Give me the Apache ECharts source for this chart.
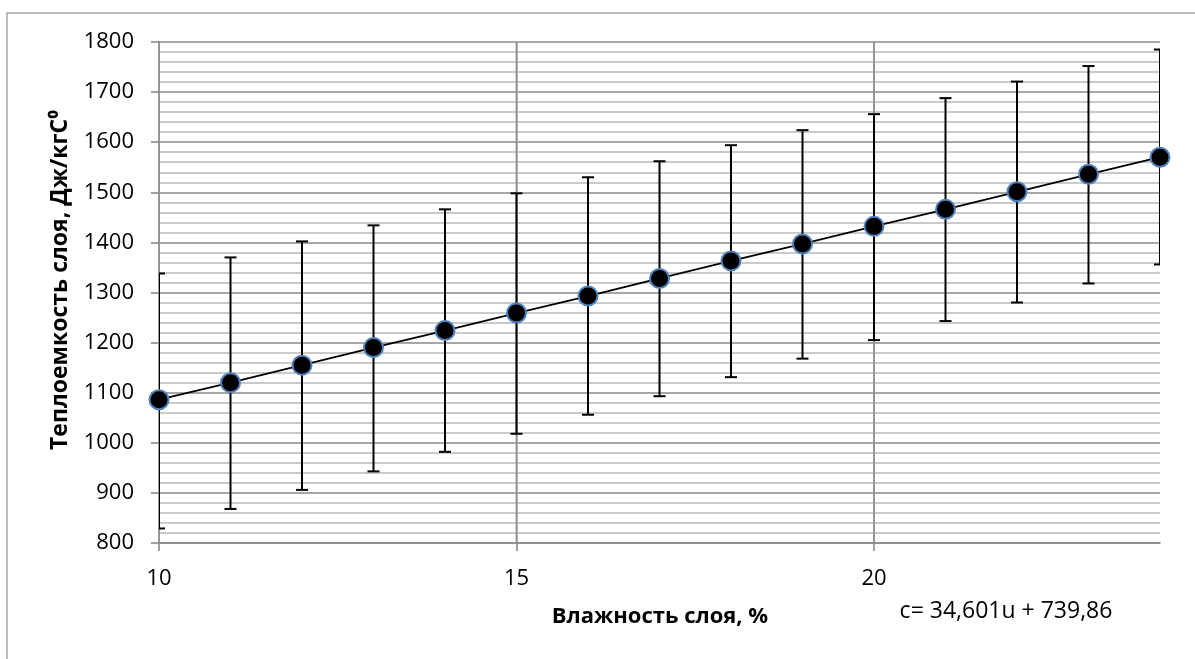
<!DOCTYPE html>
<html>
<head>
<meta charset="utf-8">
<script src="https://cdn.jsdelivr.net/npm/echarts@6/dist/echarts.min.js"></script>
<style>
  html, body { margin: 0; padding: 0; background: #fff; }
  #chart { width: 1195px; height: 659px; }
</style>
</head>
<body>
<div id="chart"></div>
<script>
// Влажность слоя, %
const moisture = [10, 11, 12, 13, 14, 15, 16, 17, 18, 19, 20, 21, 22, 23, 24];
// Теплоемкость слоя (средние значения), Дж/кгС⁰
const heatCapacity = [1086, 1120, 1155, 1190, 1224, 1259, 1293, 1328, 1363, 1397, 1432, 1466, 1501, 1536, 1570];
// Границы разброса (планки погрешностей)
const lowerBound = [829, 868, 906, 943, 982, 1018, 1056, 1093, 1131, 1168, 1205, 1243, 1280, 1318, 1356];
const upperBound = [1338, 1370, 1402, 1434, 1466, 1498, 1530, 1562, 1594, 1624, 1656, 1688, 1721, 1752, 1785];
// Подписи осей
const xTickLabels = [10, 15, 20];
const yTickLabels = [800, 900, 1000, 1100, 1200, 1300, 1400, 1500, 1600, 1700, 1800];

const xTitle = 'Влажность слоя, %';
const yTitle = 'Теплоемкость слоя, Дж/кгС⁰';
const equation = 'c= 34,601u + 739,86';

const FONT = '"Open Sans", "Noto Sans", sans-serif';
const MAJOR = '#8a8a8a';
const MINOR = '#b8b8b8';
const Y_MIN = yTickLabels[0];
const Y_MAX = yTickLabels[yTickLabels.length - 1];

const points = moisture.map((x, i) => [x, heatCapacity[i]]);
const bars = moisture.map((x, i) => [x, lowerBound[i], upperBound[i]]);

// основные вертикальные линии сетки (на подписанных делениях)
function renderMajorLine(params, api) {
  const x = api.value(0);
  const a = api.coord([x, Y_MIN]);
  const b = api.coord([x, Y_MAX]);
  return {
    type: 'line',
    shape: { x1: a[0], y1: a[1], x2: b[0], y2: b[1] },
    style: { stroke: MAJOR, lineWidth: 1.6 }
  };
}

function renderErrorBar(params, api) {
  const x = api.value(0);
  const top = api.coord([x, api.value(2)]);
  const bot = api.coord([x, api.value(1)]);
  const cap = 6;
  const st = { stroke: '#000', lineWidth: 2 };
  return {
    type: 'group',
    children: [
      { type: 'line', z2: 10, shape: { x1: top[0], y1: top[1], x2: bot[0], y2: bot[1] }, style: st },
      { type: 'line', z2: 10, shape: { x1: top[0] - cap, y1: top[1], x2: top[0] + cap, y2: top[1] }, style: st },
      { type: 'line', z2: 10, shape: { x1: bot[0] - cap, y1: bot[1], x2: bot[0] + cap, y2: bot[1] }, style: st }
    ]
  };
}

const chart = echarts.init(document.getElementById('chart'), null, { renderer: 'canvas' });
chart.setOption({
  backgroundColor: '#fff',
  animation: false,
  grid: { left: 159, right: 35, top: 42, bottom: 116, containLabel: false },
  xAxis: {
    type: 'value',
    min: moisture[0],
    max: moisture[moisture.length - 1],
    interval: 1,
    axisLine: { show: true, lineStyle: { color: MAJOR, width: 1.6 } },
    axisTick: { show: true, length: 8, customValues: xTickLabels, lineStyle: { color: MAJOR, width: 1.6 } },
    axisLabel: {
      customValues: xTickLabels,
      margin: 25,
      color: '#000',
      fontFamily: FONT,
      fontSize: 22
    },
    splitLine: { show: true, lineStyle: { color: MINOR, width: 1.6 } }
  },
  yAxis: {
    type: 'value',
    min: Y_MIN,
    max: Y_MAX,
    interval: 100,
    axisLine: { show: true, lineStyle: { color: MAJOR, width: 1.6 } },
    axisTick: { show: true, length: 8, lineStyle: { color: MAJOR, width: 1.6 } },
    axisLabel: {
      margin: 25,
      color: '#000',
      fontFamily: FONT,
      fontSize: 22,
      formatter: (v) => String(v)
    },
    splitLine: { show: true, lineStyle: { color: MAJOR, width: 1.6 } },
    minorTick: { show: false, splitNumber: 5 },
    minorSplitLine: { show: true, lineStyle: { color: MINOR, width: 1.6 } }
  },
  series: [
    {
      type: 'custom',
      renderItem: renderMajorLine,
      data: xTickLabels.slice(1).map((v) => [v]),
      z: 1,
      silent: true
    },
    {
      type: 'custom',
      renderItem: renderErrorBar,
      data: bars,
      clip: true,
      zlevel: 1,
      z: 3,
      silent: true
    },
    {
      type: 'line',
      data: points,
      symbol: 'circle',
      symbolSize: 19,
      lineStyle: { color: '#000', width: 1.8 },
      itemStyle: { color: '#000', borderColor: '#4f81bd', borderWidth: 2 },
      zlevel: 1,
      z: 4,
      silent: true
    }
  ],
  graphic: [
    {
      type: 'rect',
      shape: { x: 7, y: 13, width: 1300, height: 800 },
      style: { fill: 'none', stroke: '#a6a6a6', lineWidth: 1.5 },
      silent: true,
      z: -10
    },
    {
      type: 'text',
      x: 60,
      y: 280,
      rotation: Math.PI / 2,
      style: {
        text: yTitle,
        fill: '#000',
        font: 'bold 23px ' + FONT,
        textAlign: 'center',
        textVerticalAlign: 'middle'
      }
    },
    {
      type: 'text',
      x: 660,
      y: 617,
      style: {
        text: xTitle,
        fill: '#000',
        font: 'bold 22px ' + FONT,
        textAlign: 'center',
        textVerticalAlign: 'middle'
      }
    },
    {
      type: 'text',
      x: 1006,
      y: 611,
      style: {
        text: equation,
        fill: '#000',
        font: '23px ' + FONT,
        textAlign: 'center',
        textVerticalAlign: 'middle'
      }
    }
  ]
});
</script>
</body>
</html>
